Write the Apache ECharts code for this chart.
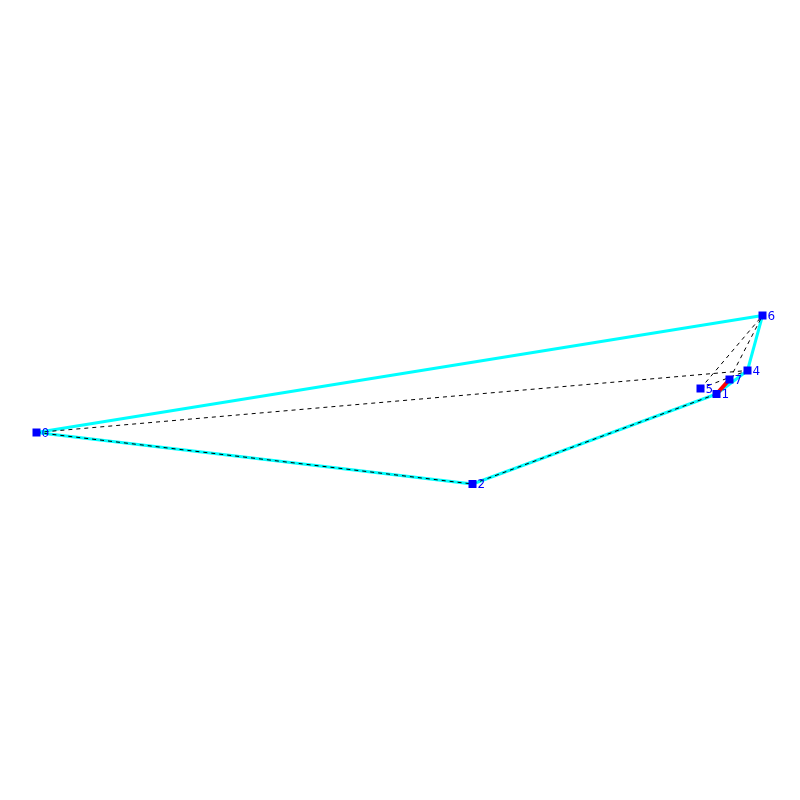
<!DOCTYPE html>
<html>
<head>
<meta charset="utf-8">
<style>
  html, body { margin: 0; padding: 0; background: #fff; }
  #main { width: 800px; height: 800px; }
</style>
<script src="https://cdn.jsdelivr.net/npm/echarts@6/dist/echarts.min.js"></script>
</head>
<body>
<div id="main"></div>
<script>
// node positions
const nodeNames = ["0", "1", "2", "4", "5", "6", "7"];
const nodeX = [36.5, 716.5, 472.5, 747.5, 700.5, 762.5, 729.5];
const nodeY = [432.5, 394, 484, 370.5, 388.5, 315.5, 379.5];

const hullEdges = [["0", "6"], ["6", "4"], ["4", "1"], ["1", "2"], ["2", "0"]];
const redEdges = [["1", "7"]];
const dashedEdges = [["0", "2"], ["2", "1"], ["0", "4"], ["5", "6"], ["7", "6"], ["5", "4"]];

const edges = [];
hullEdges.forEach(e => edges.push({ source: e[0], target: e[1], lineStyle: { color: "#00ffff", width: 3, type: "solid", opacity: 1 } }));
redEdges.forEach(e => edges.push({ source: e[0], target: e[1], lineStyle: { color: "#ff0000", width: 4, type: "solid", opacity: 1 } }));
dashedEdges.forEach(e => edges.push({ source: e[0], target: e[1], lineStyle: { color: "#000000", width: 1, type: [4, 4], opacity: 1 } }));

const chart = echarts.init(document.getElementById("main"));
chart.setOption({
  animation: false,
  backgroundColor: "#ffffff",
  grid: { left: 0, right: 0, top: 0, bottom: 0 },
  xAxis: { type: "value", min: 0, max: 800, show: false },
  yAxis: { type: "value", min: 0, max: 800, inverse: true, show: false },
  series: [{
    type: "graph",
    coordinateSystem: "cartesian2d",
    symbol: "rect",
    symbolSize: 8,
    itemStyle: { color: "#0000ff", opacity: 1 },
    label: {
      show: true,
      position: "right",
      distance: 1,
      offset: [0, 1],
      color: "#0000ff",
      fontFamily: "DejaVu Sans",
      fontSize: 12,
      formatter: p => p.name
    },
    data: nodeNames.map((n, i) => ({ name: n, value: [nodeX[i], nodeY[i]] })),
    links: edges
  }]
});
</script>
</body>
</html>
